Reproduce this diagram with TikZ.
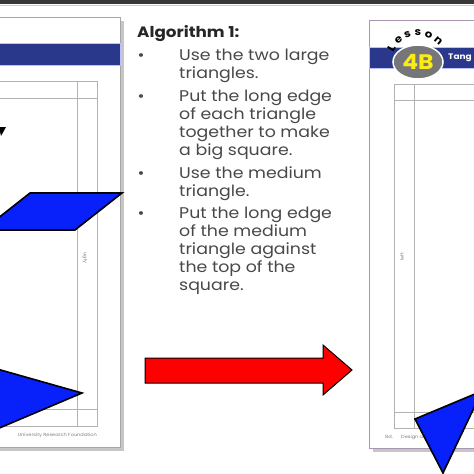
\documentclass[tikz,border=0pt]{standalone}
\usepackage{fontspec}
\setmainfont{Poppins}[FakeStretch=1.12]
\usetikzlibrary{positioning}
\definecolor{tanblue}{RGB}{8,32,250}
\definecolor{bandblue}{RGB}{42,56,140}
\definecolor{algray}{RGB}{72,72,72}
\definecolor{pagepurple}{RGB}{170,150,178}
\definecolor{badgegray}{RGB}{118,118,122}
\definecolor{badgeyellow}{RGB}{250,236,20}

\begin{document}
\begin{tikzpicture}[x=1pt,y=-1pt,
    page/.style={fill=white,line width=0.8pt},
    shadow/.style={fill=gray!45},
    band/.style={fill=bandblue,draw=blue!25,line width=0.6pt},
    guide/.style={draw=gray!60,line width=0.8pt},
    tanpiece/.style={fill=tanblue,draw=black,line width=1.6pt,line join=miter},
    algtext/.style={inner sep=0pt,align=left,text=algray,font=\fontsize{15.5}{18}\selectfont},
    bulletmark/.style={inner sep=0pt,text=algray,font=\fontsize{15}{18}\selectfont},
    tinytext/.style={inner sep=0pt,text=gray,font=\fontsize{4.5}{5}\selectfont}]
  \useasboundingbox (0,0) rectangle (474,474);
  \clip (0,0) rectangle (474,474);

  % top bar
  \fill[black!78] (0,0) rectangle (474,4);
  \draw[gray!40,line width=1pt] (0,5) -- (474,5);

  % left page
  \fill[shadow] (-2,21) rectangle (124,451);
  \draw[page,draw=gray!70] (-5,17) rectangle (120,447);
  \draw[band] (-5,43) rectangle (120,65);
  \draw[guide] (-5,81) rectangle (97,426);
  \draw[guide] (77,81) -- (77,426);
  \draw[guide] (-5,98) -- (97,98);
  \draw[guide] (-5,409) -- (97,409);
  \node[tinytext,rotate=-90] (lefttag) at (85,258) {ugly};
  \node[tinytext,anchor=east] (leftfoot) at (97,435) {University Research Foundation};
  \fill[black] (-1,127) -- (6,127) -- (1,136) -- cycle;

  \draw[tanpiece] (30,193) -- (122,193) -- (75,230) -- (-17,230) -- cycle;
  \draw[tanpiece] (-10,367) -- (82,393) -- (-10,432) -- cycle;

  % right page
  \fill[shadow] (373,24) rectangle (480,452);
  \draw[page,draw=pagepurple] (369,20) rectangle (480,448);
  \draw[band] (369,47) rectangle (480,68);
  \draw[guide] (394,84) rectangle (480,428);
  \draw[guide] (414,84) -- (414,428);
  \draw[guide] (394,100) -- (480,100);
  \draw[guide] (394,412) -- (480,412);
  \node[tinytext,rotate=90] (righttag) at (402,257) {left};
  \node[tinytext,anchor=west] (pageno) at (385,437) {8d.};
  \node[tinytext,anchor=west] (rightfoot) at (401,437) {Design and Technica};

  \draw[fill=badgegray,draw=white,line width=1.5pt] (418,62) ellipse (25 and 17);
  \node[inner sep=0pt,text=badgeyellow,font=\fontsize{21}{21}\bfseries\selectfont] (badge) at (418,62) {4B};
  \foreach \a/\ch in {149/L,129/e,110/s,90/s,70/o,49/n}
    \node[inner sep=0pt,font=\fontsize{10.5}{10.5}\bfseries\selectfont,rotate=\a-90]
      at ({418+31*cos(\a)},{64-31*sin(\a)}) {\ch};
  \node[inner sep=0pt,anchor=west,text=white,font=\fontsize{8}{8}\bfseries\selectfont] (tang) at (448,58) {Tang};

  \draw[tanpiece] (415,419) -- (482,391) -- (443,473) -- cycle;

  % algorithm text
  \node[inner sep=0pt,anchor=base west,text=black!85,font=\fontsize{15}{18}\bfseries\selectfont] (title) at (137,37) {Algorithm 1:};
  \node[algtext,anchor=base west] (step1) at (179,78) {Use the two large\\triangles.};
  \node[algtext,anchor=base west] (step2) at (179,155) {Put the long edge\\of each triangle\\together to make\\a big square.};
  \node[algtext,anchor=base west] (step3) at (179,196) {Use the medium\\triangle.};
  \node[algtext,anchor=base west] (step4) at (179,290) {Put the long edge\\of the medium\\triangle against\\the top of the\\square.};
  \foreach \y in {60,101,178,218}
    \node[bulletmark,anchor=base] at (141,\y) {•};

  % red arrow
  \draw[fill=red,draw=black,line width=1pt] (145,358) -- (323,358) -- (323,345) -- (352,370)
    -- (323,395) -- (323,383) -- (145,383) -- cycle;
\end{tikzpicture}
\end{document}
